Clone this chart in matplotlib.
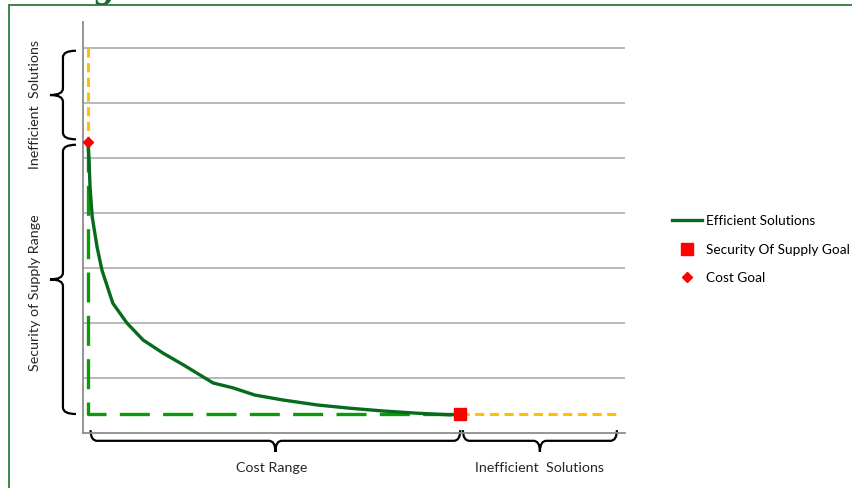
import numpy as np
import matplotlib
matplotlib.use('Agg')
import matplotlib.pyplot as plt
from matplotlib.path import Path
from matplotlib.patches import PathPatch
from matplotlib.lines import Line2D
import matplotlib.transforms as mtransforms

plt.rcParams['font.family'] = ['Lato', 'DejaVu Sans']

# efficient frontier: cost vs. security of supply shortfall
cost = [0.09, 0.11, 0.13, 0.17, 0.26, 0.35, 0.55, 0.81, 1.11, 1.48, 1.85,
        2.40, 2.77, 3.17, 3.69, 4.32, 4.93, 5.54, 6.16, 6.77, 6.96]
supply = [5.29, 5.00, 4.47, 3.93, 3.38, 2.96, 2.36, 2.00, 1.69, 1.45, 1.24,
          0.91, 0.82, 0.69, 0.60, 0.51, 0.45, 0.40, 0.36, 0.33, 0.345]
cost_goal = (0.09, 5.29)
supply_goal = (6.96, 0.345)
y_top = 7.0
x_right = 9.9

green_dash = '#0a9a0a'
yellow = '#ffc000'
curve_col = '#076b1e'
grid_col = '#a6a6a6'

fig = plt.figure(figsize=(8.53, 4.88), dpi=100)
ax = fig.add_axes([83 / 853, 1 - 433 / 488, 542 / 853, 411 / 488])
ax.set_xlim(0, 10)
ax.set_ylim(0, 411 / 55)
ax.set_yticks(np.arange(1, 8))
ax.set_xticks([])
ax.tick_params(left=False, labelleft=False)
ax.grid(axis='y', color=grid_col, lw=1.1)
ax.set_axisbelow(True)
for s in ['top', 'right']:
    ax.spines[s].set_visible(False)
for s in ['left', 'bottom']:
    ax.spines[s].set_color('#8c8c8c')
    ax.spines[s].set_linewidth(1.3)

# guide lines
ax.plot([cost_goal[0], cost_goal[0]], [y_top, cost_goal[1]], color=yellow, lw=2.2,
        dashes=(3, 1.8), zorder=2)
ax.plot([supply_goal[0], x_right], [supply_goal[1], supply_goal[1]], color=yellow, lw=2.2,
        dashes=(3, 1.8), zorder=2)
ax.plot([cost_goal[0], cost_goal[0], supply_goal[0]], [cost_goal[1], supply_goal[1], supply_goal[1]],
        color=green_dash, lw=2.4, dashes=(9, 4), zorder=2)

line, = ax.plot(cost, supply, color=curve_col, lw=2.4, zorder=3, label='Efficient Solutions')
sq, = ax.plot([supply_goal[0]], [supply_goal[1]], 's', color='#ff0000', ms=8, zorder=4,
              linestyle='none', label='Security Of Supply Goal')
dm, = ax.plot([cost_goal[0]], [cost_goal[1]], 'D', color='#ff0000', ms=5.5, zorder=4,
              linestyle='none', label='Cost Goal')


def brace_v(a0, a1, trans, base, spine, tip, r):
    # vertical curly brace between y=a0 and y=a1
    m = (a0 + a1) / 2
    verts = [(base, a1), (spine, a1), (spine, a1 - r),
             (spine, m + r), (spine, m), (tip, m),
             (spine, m), (spine, m - r),
             (spine, a0 + r), (spine, a0), (base, a0)]
    codes = [Path.MOVETO, Path.CURVE3, Path.CURVE3,
             Path.LINETO, Path.CURVE3, Path.CURVE3,
             Path.CURVE3, Path.CURVE3,
             Path.LINETO, Path.CURVE3, Path.CURVE3]
    ax.add_patch(PathPatch(Path(verts, codes), transform=trans, fill=False,
                           ec='black', lw=1.6, clip_on=False))


def brace_h(a0, a1, trans, base, spine, tip, r):
    m = (a0 + a1) / 2
    verts = [(a0, base), (a0, spine), (a0 + r, spine),
             (m - r, spine), (m, spine), (m, tip),
             (m, spine), (m + r, spine),
             (a1 - r, spine), (a1, spine), (a1, base)]
    codes = [Path.MOVETO, Path.CURVE3, Path.CURVE3,
             Path.LINETO, Path.CURVE3, Path.CURVE3,
             Path.CURVE3, Path.CURVE3,
             Path.LINETO, Path.CURVE3, Path.CURVE3]
    ax.add_patch(PathPatch(Path(verts, codes), transform=trans, fill=False,
                           ec='black', lw=1.6, clip_on=False))


tv = mtransforms.blended_transform_factory(ax.transAxes, ax.transData)
th = mtransforms.blended_transform_factory(ax.transData, ax.transAxes)
brace_v(cost_goal[1] + 0.05, y_top - 0.05, tv, -0.013, -0.037, -0.061, 0.12)
brace_v(supply_goal[1], cost_goal[1] - 0.05, tv, -0.013, -0.037, -0.061, 0.12)
brace_h(cost_goal[0] + 0.05, supply_goal[0], th, 0.007, -0.019, -0.046, 0.12)
brace_h(supply_goal[0] + 0.05, x_right - 0.05, th, 0.007, -0.019, -0.046, 0.12)

fs = 10.3
ax.text(-0.088, (cost_goal[1] + y_top) / 2 - 0.17, 'Inefficient  Solutions', transform=tv,
        rotation=90, ha='center', va='center', fontsize=fs, color='#262626')
ax.text(-0.088, (supply_goal[1] + cost_goal[1]) / 2 - 0.27, 'Security of Supply Range', transform=tv,
        rotation=90, ha='center', va='center', fontsize=fs, color='#262626')
ax.text((cost_goal[0] + supply_goal[0]) / 2 - 0.04, -0.085, 'Cost Range', transform=th,
        ha='center', va='center', fontsize=fs, color='#262626')
ax.text((supply_goal[0] + x_right) / 2, -0.085, 'Inefficient  Solutions', transform=th,
        ha='center', va='center', fontsize=fs, color='#262626')

fig.legend(handles=[line, sq, dm], loc='upper left', bbox_to_anchor=(660 / 853, 1 - 203 / 488),
           frameon=False, fontsize=9.8, handlelength=2.2, handletextpad=0.25, labelspacing=1.2)

# page border and clipped heading
fig.add_artist(Line2D([9 / 853, 1], [1 - 5 / 488, 1 - 5 / 488], transform=fig.transFigure,
                      color='#3b8548', lw=1.4))
fig.add_artist(Line2D([9 / 853, 9 / 853], [0, 1 - 5 / 488], transform=fig.transFigure,
                      color='#3b8548', lw=1.4))
fig.text(103 / 853, 1 + 2 / 488, 'g', ha='center', va='baseline', fontsize=22,
         fontweight='bold', family='DejaVu Serif', color='#1e6b2d')

fig.savefig('out.png', dpi=100)
